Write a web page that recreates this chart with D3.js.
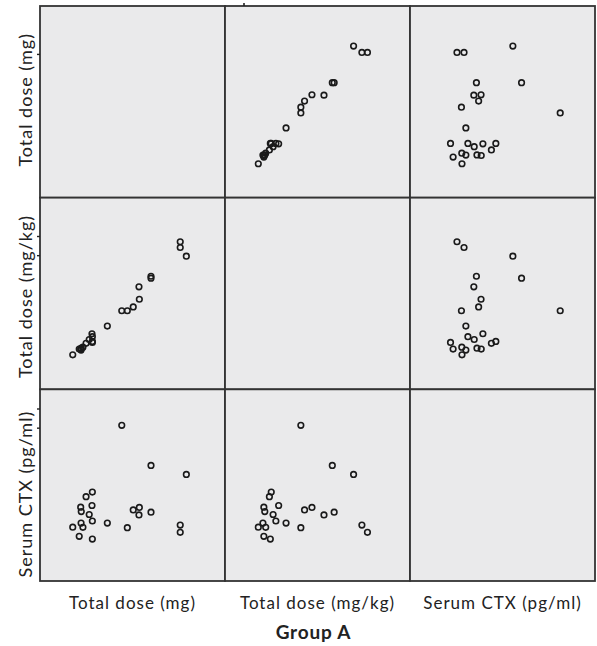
<!DOCTYPE html>
<html>
<head>
<meta charset="utf-8">
<script src="https://cdn.jsdelivr.net/npm/d3@7"></script>
<style>
  body { margin: 0; background: #fff; }
  text { font-family: Lato, "Open Sans", sans-serif; fill: #222; }
</style>
</head>
<body>
<div class="matrix"></div>
<script>
let margin = {top: 6, right: 2, bottom: 65, left: 40},
    width = 597 - margin.left - margin.right,
    height = 646 - margin.top - margin.bottom;

// variables of the matrix (Group A)
let varNames = ["Total dose (mg)", "Total dose (mg/kg)", "Serum CTX (pg/ml)"];

let totalDoseMg   = [44.2, 60.0, 79.1, 28.3, 24.9, 22.0, 22.3, 28.1, 26.6, 28.3, 22.2, 17.7,
                     23.2, 21.2, 28.3, 36.4, 47.2, 50.4, 53.7, 53.5, 60.0, 75.8, 75.8];
let totalDoseMgKg = [0.82, 1.16, 1.39, 0.50, 0.48, 0.42, 0.43, 0.58, 0.52, 0.55, 0.41, 0.36,
                     0.44, 0.42, 0.49, 0.66, 0.82, 0.86, 0.94, 1.07, 1.18, 1.48, 1.54];
let serumCtx      = [812, 603, 556, 464, 440, 385, 362, 394, 347, 313, 302, 281,
                     280, 233, 219, 302, 278, 371, 384, 345, 359, 292, 254];

let domains = [[0, 100], [0, 2], [0, 1000]];
let leftTicks = [[75], [1.4, 1.6], [800, 900]];
let topTicks = [[], [0.2], []];

let columns = [totalDoseMg, totalDoseMgKg, serumCtx];
let n = columns.length;
let cellW = width / n, cellH = height / n;
let rowLabelShift = [-2, 3, 9];

let svg = d3.select(".matrix")
            .append("svg")
              .attr("width", 597)
              .attr("height", 646);

let g = svg.append("g")
           .attr("transform", "translate(" + margin.left + "," + margin.top + ")");

let xScales = domains.map(function(d){
  return d3.scaleLinear().domain(d).range([0, cellW]);
});
let yScales = domains.map(function(d){
  return d3.scaleLinear().domain(d).range([cellH, 0]);
});

for(let r = 0; r < n; r++){
  for(let c = 0; c < n; c++){
    let cell = g.append("g")
                .attr("class", "cell")
                .attr("transform", "translate(" + (c * cellW) + "," + (r * cellH) + ")");

    cell.append("rect")
        .attr("width", cellW)
        .attr("height", cellH)
        .attr("fill", "#eaeaeb")
        .attr("stroke", "#333")
        .attr("stroke-width", 1.8);

    if(r == c) continue;

    let pts = columns[c].map(function(v, i){
      return {x: v, y: columns[r][i]};
    });

    cell.selectAll("circle").data(pts).enter()
        .append("circle")
          .attr("cx", function(d){ return xScales[c](d.x); })
          .attr("cy", function(d){ return yScales[r](d.y); })
          .attr("r", 2.8)
          .attr("fill", "none")
          .attr("stroke", "#1a1a1a")
          .attr("stroke-width", 1.6);
  }
}

// small left ticks
for(let r = 0; r < n; r++){
  let ax = d3.axisLeft(yScales[r]).tickValues(leftTicks[r]).tickSize(3).tickFormat("");
  let axG = g.append("g")
             .attr("transform", "translate(0," + (r * cellH) + ")")
             .call(ax);
  axG.select(".domain").remove();
  axG.selectAll("line").attr("stroke", "#222").attr("stroke-width", 1.4);
}
for(let c = 0; c < n; c++){
  if(topTicks[c].length == 0) continue;
  let ax = d3.axisTop(xScales[c]).tickValues(topTicks[c]).tickSize(3).tickFormat("");
  let axG = g.append("g")
             .attr("transform", "translate(" + (c * cellW) + ",0)")
             .call(ax);
  axG.select(".domain").remove();
  axG.selectAll("line").attr("stroke", "#222").attr("stroke-width", 1.6);
}

// row labels
g.selectAll(".rowlabel").data(varNames).enter()
  .append("text")
    .attr("class", "rowlabel")
    .attr("transform", function(d, i){
      return "translate(-8," + (i * cellH + cellH / 2 + rowLabelShift[i]) + ") rotate(-90)";
    })
    .attr("text-anchor", "middle")
    .style("font-size", "18px")
    .style("letter-spacing", "1px")
    .text(function(d){ return d; });

// column labels
g.selectAll(".collabel").data(varNames).enter()
  .append("text")
    .attr("class", "collabel")
    .attr("x", function(d, i){ return i * cellW + cellW / 2; })
    .attr("y", height + 28)
    .attr("text-anchor", "middle")
    .style("font-size", "17px")
    .style("letter-spacing", "1px")
    .text(function(d){ return d; });

g.append("text")
  .attr("x", width / 2 - 4)
  .attr("y", height + 58)
  .attr("text-anchor", "middle")
  .style("font-size", "19px")
  .style("font-weight", "bold")
  .style("letter-spacing", "0.8px")
  .text("Group A");
</script>
</body>
</html>
